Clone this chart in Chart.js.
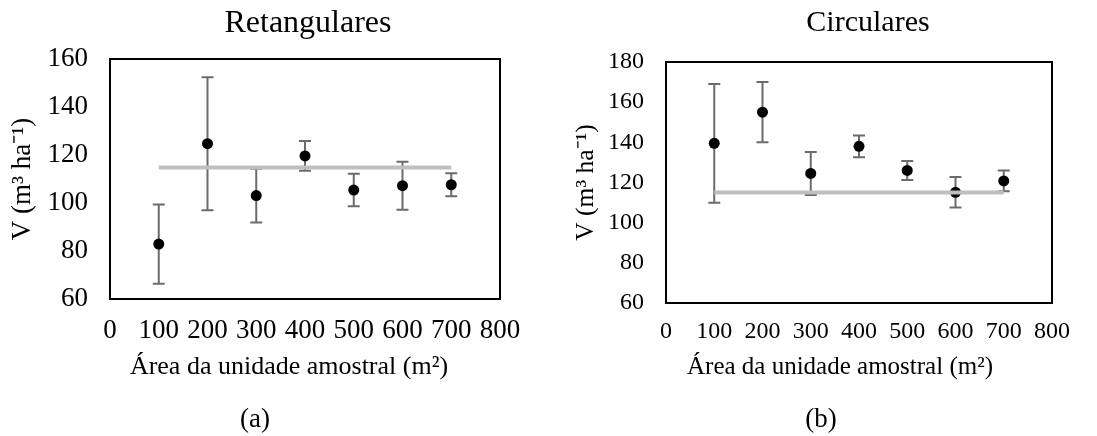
<!DOCTYPE html>
<html><head><meta charset="utf-8">
<script src="https://cdn.jsdelivr.net/npm/chart.js@4.4.0/dist/chart.umd.min.js"></script>
<style>
html,body{margin:0;padding:0;background:#fff;}
#wrap{position:relative;width:1097px;height:436px;overflow:hidden;}
#c1{position:absolute;left:0;top:0;}
#c2{position:absolute;left:548px;top:0;}
</style></head><body>
<div id="wrap"><canvas id="c1" width="548" height="436"></canvas><canvas id="c2" width="549" height="436"></canvas></div>
<script>
const areas = [100, 200, 300, 400, 500, 600, 700];
const rectMeans = [82.9, 124.7, 103.1, 119.6, 105.4, 107.2, 107.6];
const rectErrors = [16.5, 27.7, 11.2, 6.2, 6.8, 10.0, 4.8];
const circMeans = [139.5, 155.0, 124.5, 138.0, 126.0, 115.1, 120.8];
const circErrors = [29.6, 15.0, 10.7, 5.4, 4.7, 7.6, 5.2];
const refLineX = [100, 700];
const rectRef = 114.8;
const circRef = 115.0;
const xTicks = [0, 100, 200, 300, 400, 500, 600, 700, 800];
const rectYTicks = [60, 80, 100, 120, 140, 160];
const circYTicks = [60, 80, 100, 120, 140, 160, 180];
const xAxisTitle = 'Área da unidade amostral (m²)';
const yAxisTitle = 'V (m³ ha⁻¹)';

const FONT = "'Liberation Serif', 'Times New Roman', serif";

const errorBarPlugin = {
  id: 'errorBars',
  beforeDatasetsDraw(chart, args, opts) {
    const {ctx, scales: {x, y}} = chart;
    ctx.save();
    ctx.strokeStyle = opts.color;
    ctx.lineWidth = opts.width;
    opts.xs.forEach((xv, i) => {
      const px = x.getPixelForValue(xv);
      const top = y.getPixelForValue(opts.means[i] + opts.errors[i]);
      const bot = y.getPixelForValue(opts.means[i] - opts.errors[i]);
      ctx.beginPath();
      ctx.moveTo(px, top); ctx.lineTo(px, bot);
      ctx.moveTo(px - opts.cap, top); ctx.lineTo(px + opts.cap, top);
      ctx.moveTo(px - opts.cap, bot); ctx.lineTo(px + opts.cap, bot);
      ctx.stroke();
    });
    ctx.restore();
  }
};

const boxPlugin = {
  id: 'plotBox',
  afterDatasetsDraw(chart) {
    const {ctx, chartArea: a} = chart;
    ctx.save();
    ctx.strokeStyle = '#000';
    ctx.lineWidth = 2;
    ctx.strokeRect(a.left, a.top, a.right - a.left, a.bottom - a.top);
    ctx.restore();
  }
};

// Plot title, x-axis title and panel label, placed relative to the plot area
const labelsPlugin = {
  id: 'panelLabels',
  afterDraw(chart, args, o) {
    const {ctx, chartArea: a} = chart;
    const cx = (a.left + a.right) / 2;
    ctx.save();
    ctx.fillStyle = '#000';
    ctx.textAlign = 'center';
    ctx.textBaseline = 'middle';
    o.items.forEach(it => {
      ctx.font = it.size + 'px ' + FONT;
      ctx.fillText(it.text, cx + it.dx, it.y);
    });
    ctx.restore();
  }
};

function makeChart(canvas, c) {
  return new Chart(canvas, {
    type: 'scatter',
    data: {
      datasets: [
        {
          data: areas.map((v, i) => ({x: v, y: c.means[i]})),
          pointRadius: 5.5, pointHoverRadius: 5.5,
          backgroundColor: '#000', borderWidth: 0, showLine: false, order: 2
        },
        {
          data: refLineX.map(v => ({x: v, y: c.ref})),
          borderColor: '#bfbfbf', borderWidth: 4, pointRadius: 0,
          showLine: true, fill: false, order: 1
        }
      ]
    },
    options: {
      responsive: false, animation: false, devicePixelRatio: 1,
      layout: {padding: {left: 0, right: c.padRight, top: c.padTop, bottom: 0}},
      plugins: {
        legend: {display: false}, tooltip: {enabled: false},
        title: {display: false}, subtitle: {display: false},
        errorBars: {xs: areas, means: c.means, errors: c.errors, color: '#6b6b6b', width: 2, cap: 6},
        panelLabels: {items: [
          {text: c.title, size: c.titleSize, dx: c.titleDx, y: 23.4},
          {text: xAxisTitle, size: c.xTitleSize, dx: c.xTitleDx, y: c.xTitleY},
          {text: c.sub, size: 27, dx: c.subDx, y: 420}
        ]}
      },
      scales: {
        x: {
          type: 'linear', min: xTicks[0], max: xTicks[xTicks.length - 1],
          afterBuildTicks: s => { s.ticks = xTicks.map(v => ({value: v})); },
          afterFit: s => { s.height = c.xHeight; },
          grid: {display: false, drawTicks: false}, border: {display: false},
          ticks: {color: '#000', padding: c.xTickPad, maxRotation: 0, autoSkip: false,
            font: {family: FONT, size: c.tickSize, lineHeight: 1.2}},
          title: {display: false}
        },
        y: {
          type: 'linear', min: c.yTicks[0], max: c.yTicks[c.yTicks.length - 1],
          afterBuildTicks: s => { s.ticks = c.yTicks.map(v => ({value: v})); },
          afterFit: s => { s.width = c.yWidth; },
          grid: {display: false, drawTicks: false}, border: {display: false},
          ticks: {color: '#000', padding: 22,
            font: {family: FONT, size: c.tickSize, lineHeight: 1.2}},
          title: {display: true, text: yAxisTitle, color: '#000',
            font: {family: FONT, size: c.yTitleSize, lineHeight: 1.2},
            padding: {top: c.yTitlePadT, bottom: 0}}
        }
      }
    },
    plugins: [errorBarPlugin, boxPlugin, labelsPlugin]
  });
}

makeChart(document.getElementById('c1'), {
  means: rectMeans, errors: rectErrors, ref: rectRef, yTicks: rectYTicks,
  title: 'Retangulares', sub: '(a)', titleSize: 32, titleDx: 3,
  padTop: 59, padRight: 48, yWidth: 110,
  xHeight: 137, xTickPad: 16, tickSize: 27,
  xTitleSize: 26, xTitleDx: -16, xTitleY: 367, subDx: -50,
  yTitleSize: 27, yTitlePadT: 7
});
makeChart(document.getElementById('c2'), {
  means: circMeans, errors: circErrors, ref: circRef, yTicks: circYTicks,
  title: 'Circulares', sub: '(b)', titleSize: 30, titleDx: 9,
  padTop: 62, padRight: 45, yWidth: 118,
  xHeight: 133, xTickPad: 14, tickSize: 24,
  xTitleSize: 25, xTitleDx: -19, xTitleY: 367.5, subDx: -38,
  yTitleSize: 25.5, yTitlePadT: 22.7
});
</script>
</body></html>
